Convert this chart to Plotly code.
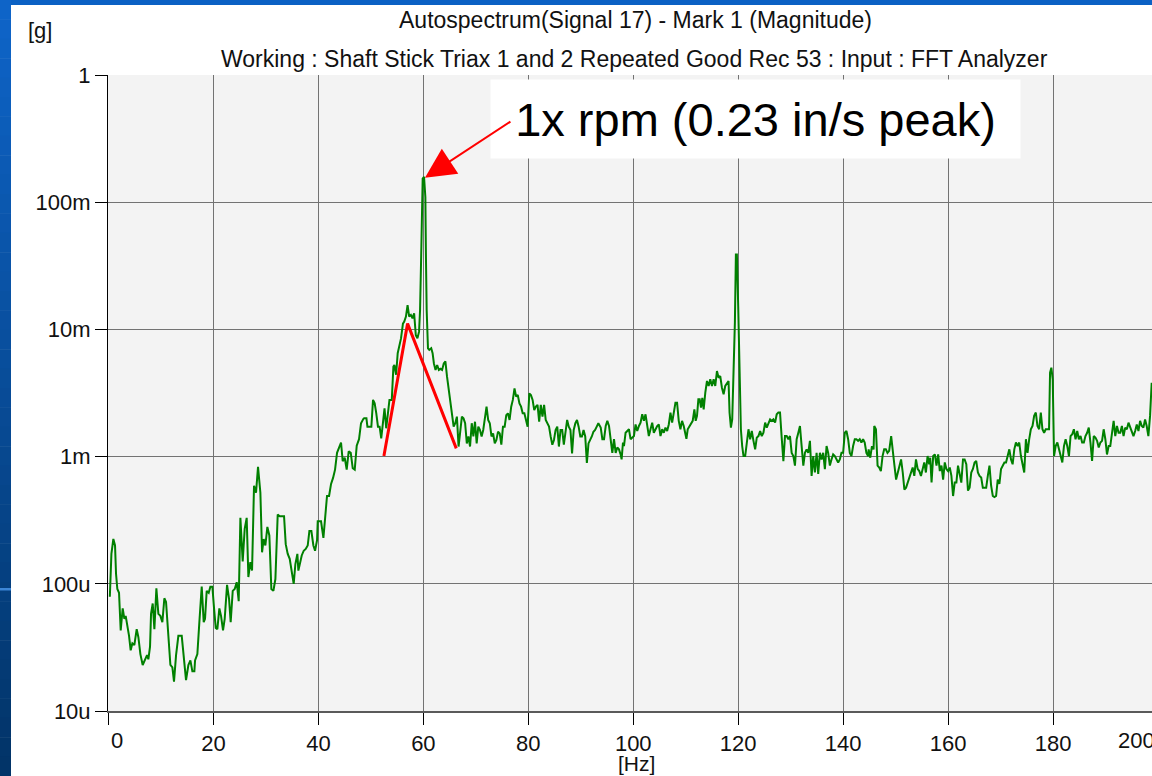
import plotly.graph_objects as go
import math

# ---- data (frequency in Hz, magnitude in g) ----
freq_hz = [
    0.25, 0.55, 0.92, 1.24, 1.43, 1.68, 2.0, 2.32, 2.7, 3.02, 3.27, 3.53, 3.91, 4.22, 4.54, 4.92,
    5.37, 5.69, 6.07, 6.51, 6.96, 7.34, 7.59, 7.91, 8.1, 8.42, 8.74, 9.12, 9.5, 9.88, 10.26, 10.64,
    10.96, 11.4, 11.79, 12.17, 12.48, 12.87, 13.31, 13.95, 14.33, 14.77, 15.22, 15.6, 15.98, 16.36,
    16.49, 16.93, 17.31, 17.76, 18.14, 18.39, 18.71, 19.09, 19.41, 19.79, 20.11, 20.43, 20.74, 21.12,
    21.44, 21.82, 22.14, 22.59, 22.97, 23.28, 23.67, 24.05, 24.43, 24.81, 25.13, 25.57, 25.95, 26.33,
    26.65, 27.03, 27.35, 27.73, 28.11, 28.49, 28.94, 29.26, 29.57, 29.89, 30.27, 30.65, 31.03, 31.42,
    31.8, 32.24, 32.62, 33.0, 33.45, 33.77, 34.15, 34.53, 34.91, 35.29, 35.61, 35.99, 36.18, 36.5,
    36.82, 37.2, 37.58, 37.96, 38.28, 38.66, 39.04, 39.36, 39.74, 39.87, 40.5, 40.95, 41.26, 41.64,
    42.03, 42.41, 42.79, 43.17, 43.55, 43.93, 44.31, 44.63, 45.01, 45.39, 45.77, 46.16, 46.54, 46.92,
    47.3, 47.74, 48.12, 48.57,
    48.71, 49.15, 49.34, 49.78, 50.09, 50.41, 50.72, 51.03, 51.35, 51.66, 51.97, 52.29, 52.6, 52.92,
    53.23, 53.54, 53.98, 54.29, 54.48, 54.8, 55.11, 55.42, 55.74, 56.11, 56.36, 56.68, 56.99, 57.3,
    57.62, 57.93, 58.24, 58.56, 58.87, 59.18, 59.37, 59.62, 59.87, 60.13, 60.38, 60.5, 60.63, 60.88,
    61.13, 61.5, 61.76, 62.01, 62.32, 62.63, 62.95, 63.26, 63.57, 63.89, 64.2, 64.51, 64.83, 65.14,
    65.45, 65.77, 66.08, 66.39, 66.71, 67.02, 67.34, 67.65, 67.96, 68.28, 68.59, 68.9, 69.22, 69.53,
    69.84, 70.16, 70.47, 70.78, 71.1, 71.41, 71.72, 72.04, 72.35, 72.66, 72.98, 73.29, 73.61, 73.92,
    74.23, 74.55, 74.86, 75.17, 75.49, 75.8, 76.11, 76.43, 76.74, 77.05, 77.37, 77.68, 77.99, 78.31,
    78.62, 78.93, 79.25, 79.56, 79.87, 80.19, 80.5, 80.82, 81.13, 81.44, 81.76, 82.07, 82.38, 82.7,
    83.01, 83.32, 83.64, 83.95, 84.26, 84.58, 84.89, 85.2, 85.52, 85.83, 86.14, 86.46, 86.77, 87.08,
    87.4, 87.71, 88.03, 88.34, 88.65, 88.97, 89.28, 89.59, 89.91, 90.22, 90.53, 90.85, 91.16, 91.47,
    91.79, 92.1, 92.41, 92.73, 93.04, 93.35,
    93.48, 93.8, 94.11, 94.43, 94.75, 95.06, 95.38, 95.7, 96.01, 96.33, 96.65, 96.96, 97.28, 97.59,
    97.78, 98.04, 98.23, 98.54, 98.86, 99.18, 99.49, 99.81, 100.13, 100.44, 100.76, 101.08, 101.39,
    101.71, 102.03, 102.34, 102.66, 102.97, 103.29, 103.61, 103.92, 104.24, 104.56, 104.87, 105.19,
    105.51, 105.82, 106.14, 106.46, 106.77, 107.09, 107.41, 107.72, 108.04, 108.35, 108.67, 108.99,
    109.3, 109.62, 109.94, 110.13, 110.38, 110.7, 111.01, 111.33, 111.65, 111.9, 112.15, 112.41,
    112.66, 112.91, 113.16, 113.42, 113.73, 114.05, 114.37, 114.68, 115.0, 115.32, 115.63, 115.95,
    116.27, 116.58, 116.9, 117.22, 117.53, 117.85, 118.16, 118.35, 118.61, 118.86, 119.11, 119.37,
    119.56, 119.75, 120.0, 120.25, 120.51, 120.76, 121.01, 121.33, 121.65, 121.96, 122.28, 122.59,
    122.91, 123.23, 123.54, 123.86, 124.18, 124.49, 124.81, 125.13, 125.44, 125.76, 126.08, 126.39,
    126.71, 127.03, 127.34, 127.66, 127.97, 128.29, 128.61, 128.92, 129.24, 129.56, 129.87, 130.19,
    130.51, 130.82, 131.14, 131.46, 131.77, 132.09, 132.41, 132.72, 133.04, 133.35, 133.67, 133.99,
    134.3, 134.62, 134.94, 135.25, 135.57, 135.89, 136.2, 136.52, 136.84, 137.15, 137.47, 137.78,
    138.1, 138.42, 138.73, 139.05, 139.37, 139.68, 140.0, 140.32, 140.63, 140.95, 141.27, 141.58,
    141.9, 142.22, 142.53, 142.85, 143.16, 143.48, 143.8, 144.11, 144.43, 144.75,
    144.86, 145.17, 145.49, 145.8, 145.93, 146.25, 146.56, 146.88, 147.19, 147.51, 147.82, 148.14,
    148.45, 148.77, 149.15, 149.46, 149.78, 150.09, 150.41, 150.73, 151.04, 151.36, 151.67, 151.99,
    152.3, 152.62, 152.93, 153.25, 153.56, 153.88, 154.2, 154.51, 154.83, 155.14, 155.46, 155.77,
    156.09, 156.4, 156.59, 156.85, 157.16, 157.48, 157.79, 158.11, 158.42, 158.74, 159.05, 159.37,
    159.68, 160.0, 160.32, 160.63, 160.95, 161.26, 161.58, 161.89, 162.21, 162.52, 162.84, 163.15,
    163.47, 163.79, 164.1, 164.42, 164.73, 165.05, 165.36, 165.68, 165.99, 166.31, 166.62, 166.94,
    167.26, 167.57, 167.89, 168.2, 168.52, 168.83, 169.15, 169.46, 169.78, 170.09, 170.41, 170.73,
    171.04, 171.36, 171.67, 171.99, 172.3, 172.62, 172.93, 173.25, 173.56, 173.88, 174.2, 174.51,
    174.83, 175.14, 175.46, 175.77, 176.09, 176.4, 176.72, 177.03, 177.35, 177.67, 177.98, 178.3,
    178.61, 178.93, 179.24, 179.43, 179.68, 179.94, 180.06, 180.19, 180.5, 180.82, 181.14, 181.45,
    181.77, 182.08, 182.4, 182.71, 183.03, 183.34, 183.66, 183.97, 184.29, 184.61, 184.92, 185.24,
    185.55, 185.87, 186.18, 186.5, 186.81, 187.13, 187.44, 187.76, 188.08, 188.39, 188.71, 189.02,
    189.34, 189.65, 189.97, 190.28, 190.6, 190.91, 191.23, 191.55, 191.86, 192.18, 192.49, 192.81,
    193.12, 193.44, 193.75, 194.07, 194.38, 194.7, 195.02, 195.33, 195.65, 195.96, 196.28, 196.59,
    196.91, 197.22, 197.54, 197.85, 198.17, 198.49, 198.8,
]

mag_g = [
    7.9e-5, 1.72e-4, 2.25e-4, 2.0e-4, 1.2e-4, 9.1e-5, 8.5e-5, 4.3e-5, 6.4e-5, 5.3e-5, 5.6e-5, 4.9e-5, 3.9e-5, 3.0e-5, 3.4e-5, 3.3e-5,
    4.4e-5, 3.8e-5, 2.8e-5, 2.3e-5, 2.5e-5, 2.75e-5, 2.55e-5, 3.2e-5, 5.8e-5, 7.0e-5, 4.4e-5, 9.2e-5, 5.8e-5, 5.6e-5, 5.0e-5, 7.7e-5,
    7.2e-5, 3.6e-5, 2.3e-5, 2.2e-5, 1.7e-5, 2.75e-5, 3.9e-5, 3.9e-5, 2.6e-5, 1.75e-5, 2.3e-5, 2.5e-5, 2.05e-5, 2.05e-5,
    2.5e-5, 2.8e-5, 5.0e-5, 9.5e-5, 5.0e-5, 5.3e-5, 8.8e-5, 8.5e-5, 9.5e-5, 9.5e-5, 6.4e-5, 4.5e-5, 4.4e-5, 6.4e-5,
    5.6e-5, 4.3e-5, 5.3e-5, 9.8e-5, 7.6e-5, 5.0e-5, 8.8e-5, 9.1e-5, 1.03e-4, 7.3e-5, 3.3e-4, 1.5e-4, 2.7e-4, 3.3e-4,
    1.13e-4, 1.48e-4, 1.27e-4, 5.9e-4, 5.2e-4, 8.3e-4, 5.2e-4, 1.77e-4, 2.25e-4, 2.0e-4, 2.8e-4, 2.4e-4, 9.1e-5, 8.8e-5,
    1.09e-4, 3.5e-4, 3.4e-4, 3.4e-4, 3.4e-4, 2.05e-4, 1.72e-4, 1.57e-4, 1.2e-4, 1.0e-4, 1.43e-4, 1.72e-4, 1.27e-4, 1.48e-4,
    1.67e-4, 1.82e-4, 1.88e-4, 2.0e-4, 2.6e-4, 2.6e-4, 2.0e-4, 1.82e-4, 2.2e-4, 3.1e-4, 3.1e-4, 2.3e-4, 3.5e-4, 4.9e-4,
    4.9e-4, 6.1e-4, 6.8e-4, 7.9e-4, 1.07e-3, 1.18e-3, 1.29e-3, 9.2e-4, 9.8e-4, 7.9e-4, 1.1e-3, 1.07e-3, 8.1e-4, 7.9e-4,
    1.22e-3, 1.37e-3, 1.83e-3, 1.98e-3,
    2.0e-3, 2.0e-3, 1.72e-3, 1.72e-3, 1.72e-3, 2.79e-3, 2.62e-3, 2.19e-3, 1.72e-3, 1.72e-3, 1.39e-3, 1.83e-3, 2.4e-3, 1.67e-3,
    2.06e-3, 2.79e-3, 2.79e-3, 5.1e-3, 5.25e-3, 4.4e-3, 6.5e-3, 7.5e-3, 8.5e-3, 1.11e-2, 1.15e-2, 1.26e-2, 1.55e-2, 1.26e-2,
    1.3e-2, 1.22e-2, 1.34e-2, 9.0e-3, 8.5e-3, 9.6e-3, 1.42e-2, 4.46e-2, 0.153, 0.158, 0.110, 3.5e-2, 1.42e-2, 7.1e-3,
    6.9e-3, 7.1e-3, 6.5e-3, 5.4e-3, 4.8e-3, 5.25e-3, 4.8e-3, 4.9e-3, 4.8e-3, 5.4e-3, 5.6e-3, 4.25e-3, 3.34e-3, 2.79e-3,
    2.19e-3, 1.72e-3, 1.83e-3, 2.06e-3, 1.2e-3, 1.52e-3, 2.06e-3, 2.0e-3, 1.83e-3, 1.27e-3, 1.44e-3, 1.2e-3, 1.83e-3, 1.44e-3,
    1.88e-3, 1.27e-3, 1.72e-3, 1.62e-3, 1.44e-3, 1.62e-3, 1.94e-3, 2.47e-3, 1.94e-3, 1.83e-3, 1.44e-3, 1.52e-3, 1.27e-3, 1.35e-3,
    1.57e-3, 1.52e-3, 1.24e-3, 1.72e-3, 1.72e-3, 2.12e-3, 2.19e-3, 1.94e-3, 2.47e-3, 2.79e-3, 3.44e-3, 2.96e-3, 3.05e-3, 2.62e-3,
    2.47e-3, 2.19e-3, 2.19e-3, 1.94e-3, 1.72e-3, 3.14e-3, 3.05e-3, 2.79e-3, 2.32e-3, 2.47e-3, 2.55e-3, 1.88e-3, 2.55e-3, 2.06e-3,
    2.55e-3, 1.94e-3, 1.83e-3, 1.72e-3, 1.44e-3, 1.24e-3, 1.35e-3, 1.62e-3, 1.72e-3, 1.2e-3, 1.62e-3, 1.62e-3, 1.24e-3, 1.62e-3,
    1.94e-3, 1.72e-3, 1.62e-3, 1.06e-3, 1.62e-3, 1.83e-3, 1.94e-3, 1.72e-3, 1.44e-3, 1.44e-3, 1.62e-3, 1.44e-3, 8.9e-4, 1.27e-3,
    1.35e-3, 1.44e-3, 1.57e-3, 1.62e-3, 1.72e-3, 1.83e-3,
    1.79e-3, 1.69e-3, 1.37e-3, 1.37e-3, 1.74e-3, 1.91e-3, 1.74e-3, 1.37e-3, 1.07e-3, 1.37e-3, 1.07e-3, 1.18e-3, 1.14e-3, 1.04e-3,
    9.5e-4, 1.29e-3, 1.21e-3, 1.54e-3, 1.59e-3, 1.64e-3, 1.37e-3, 1.41e-3, 1.45e-3, 1.79e-3, 1.59e-3, 1.74e-3, 1.85e-3,
    2.15e-3, 1.91e-3, 2.15e-3, 1.74e-3, 1.45e-3, 1.64e-3, 1.85e-3, 1.54e-3, 1.64e-3, 1.74e-3, 1.79e-3, 1.45e-3,
    1.64e-3, 1.54e-3, 1.69e-3, 1.59e-3, 1.79e-3, 2.22e-3, 1.85e-3, 2.15e-3, 2.65e-3, 2.65e-3, 1.91e-3, 1.64e-3,
    1.91e-3, 1.74e-3, 1.54e-3, 1.38e-3, 1.64e-3, 1.74e-3, 1.85e-3, 1.91e-3, 2.35e-3, 1.91e-3, 2.09e-3, 2.82e-3,
    2.82e-3, 2.43e-3, 2.9e-3, 2.35e-3, 3.18e-3, 3.93e-3, 3.59e-3, 4.05e-3, 3.59e-3, 4.05e-3, 3.59e-3, 4.71e-3,
    4.17e-3, 4.3e-3, 3.48e-3, 3.09e-3, 3.59e-3, 3.81e-3, 3.93e-3, 2.22e-3, 1.69e-3, 1.96e-3, 4.05e-3, 1.13e-2,
    3.88e-2, 3.88e-2, 1.52e-2, 4.57e-3, 1.64e-3, 1.21e-3, 1.01e-3, 1.01e-3, 1.29e-3, 1.64e-3, 1.37e-3, 1.59e-3,
    1.33e-3, 1.14e-3, 1.41e-3, 1.45e-3, 1.59e-3, 1.45e-3, 1.54e-3, 1.85e-3, 1.69e-3, 1.85e-3, 1.96e-3, 1.91e-3,
    1.96e-3, 1.85e-3, 2.15e-3, 2.22e-3, 2.22e-3, 1.41e-3, 9.2e-4, 1.45e-3, 1.45e-3, 1.37e-3, 1.45e-3, 1.07e-3,
    1.01e-3, 8.5e-4, 1.37e-3, 1.54e-3, 1.74e-3, 1.21e-3, 8.5e-4, 1.07e-3, 1.14e-3, 1.07e-3, 1.33e-3, 7.05e-4,
    1.01e-3, 7.5e-4, 1.07e-3, 7.3e-4, 1.07e-3, 9.5e-4, 1.07e-3, 7.95e-4, 1.21e-3, 1.07e-3, 8.5e-4, 9.5e-4,
    1.04e-3, 1.01e-3, 9.5e-4, 9.0e-4, 9.5e-4, 1.07e-3, 1.07e-3, 1.54e-3, 1.59e-3, 1.37e-3, 1.07e-3, 1.01e-3,
    1.21e-3, 1.37e-3, 1.37e-3, 1.33e-3, 1.37e-3, 1.29e-3, 1.37e-3, 1.29e-3, 1.07e-3, 1.01e-3,
    1.14e-3, 9.8e-4, 1.21e-3, 1.14e-3, 1.74e-3, 1.64e-3, 8.5e-4, 8.2e-4, 7.7e-4, 1.01e-3, 1.14e-3, 1.14e-3,
    1.07e-3, 1.11e-3, 1.45e-3, 1.04e-3, 8.5e-4, 6.6e-4, 7.5e-4, 8.5e-4, 9.5e-4, 7.5e-4, 5.5e-4, 5.7e-4,
    6.25e-4, 6.6e-4, 7.3e-4, 8.2e-4, 7.05e-4, 9.5e-4, 8.0e-4, 7.7e-4, 7.05e-4, 8.0e-4, 9.0e-4, 7.5e-4,
    1.01e-3, 8.7e-4, 9.8e-4, 6.25e-4, 1.01e-3, 1.04e-3, 8.5e-4, 1.04e-3, 7.7e-4, 8.5e-4, 6.6e-4, 9.0e-4,
    8.0e-4, 7.7e-4, 8.2e-4, 7.05e-4, 4.9e-4, 6.25e-4, 6.25e-4, 8.5e-4, 7.05e-4, 6.25e-4, 9.5e-4, 9.5e-4,
    8.7e-4, 5.4e-4, 5.7e-4, 7.5e-4, 8.0e-4, 9.0e-4, 9.25e-4, 7.5e-4, 7.05e-4, 6.85e-4, 5.7e-4, 5.7e-4,
    5.7e-4, 7.05e-4, 8.5e-4, 5.9e-4, 4.9e-4, 4.8e-4, 4.9e-4, 6.6e-4, 6.1e-4, 8.0e-4, 8.5e-4, 9.0e-4,
    9.0e-4, 1.01e-3, 1.14e-3, 9.5e-4, 8.7e-4, 1.14e-3, 1.29e-3, 1.21e-3, 1.29e-3, 1.01e-3, 8.5e-4, 7.5e-4,
    1.37e-3, 1.07e-3, 1.37e-3, 1.64e-3, 1.74e-3, 2.09e-3, 2.22e-3, 1.74e-3, 1.64e-3, 2.22e-3, 1.64e-3, 1.54e-3,
    1.64e-3, 1.64e-3, 1.64e-3, 4.57e-3, 5.0e-3, 4.05e-3, 1.85e-3, 1.01e-3, 1.21e-3, 1.29e-3, 1.14e-3, 1.01e-3,
    9.0e-4, 1.21e-3, 1.37e-3, 1.21e-3, 1.01e-3, 1.45e-3, 1.5e-3, 1.64e-3, 1.37e-3, 1.59e-3, 1.37e-3, 1.45e-3,
    1.29e-3, 1.29e-3, 1.45e-3, 1.54e-3, 1.69e-3, 1.29e-3, 9.25e-4, 1.45e-3, 1.41e-3, 1.33e-3, 1.18e-3, 1.29e-3,
    1.33e-3, 1.64e-3, 1.37e-3, 1.04e-3, 1.21e-3, 1.21e-3, 1.5e-3, 1.91e-3, 1.45e-3, 1.74e-3, 1.54e-3, 1.54e-3,
    1.74e-3, 1.45e-3, 1.69e-3, 1.64e-3, 1.85e-3, 1.69e-3, 1.54e-3, 1.45e-3, 1.59e-3, 1.79e-3, 1.59e-3, 1.91e-3,
    1.74e-3, 1.69e-3, 1.96e-3, 1.74e-3, 1.45e-3, 2.09e-3, 3.8e-3,
]

# hand-drawn red triangle (slope markers) around the 1x peak
marker_hz = [52.48, 56.99, 66.27]
marker_g = [1.01e-3, 1.11e-2, 1.16e-3]

x_ticks = [0, 20, 40, 60, 80, 100, 120, 140, 160, 180]
x_ticktext = ["", "20", "40", "60", "80", "100", "120", "140", "160", "180"]
y_ticks = [1e-5, 1e-4, 1e-3, 1e-2, 1e-1, 1]
y_ticktext = ["10u", "100u", "1m", "10m", "100m", "1"]

peak_hz = 60.3
peak_g = 0.156

title_1 = "Autospectrum(Signal 17) - Mark 1 (Magnitude)"
title_2 = "Working : Shaft Stick Triax 1 and 2 Repeated Good Rec 53 : Input : FFT Analyzer"
callout = "1x rpm (0.23 in/s peak)"

FONT = "Liberation Sans, Arial, sans-serif"

# ---- geometry (pixels) ----
W, H = 1152, 776
ML, MR, MT, MB = 108, 0, 75, 65
PW, PH = W - ML - MR, H - MT - MB


def px(xp):
    return (xp - ML) / PW


def py(yp):
    return (H - MB - yp) / PH


fig = go.Figure()
fig.add_trace(go.Scatter(x=freq_hz, y=mag_g, mode="lines",
                         line=dict(color="#008000", width=2), showlegend=False,
                         hoverinfo="skip"))
fig.add_trace(go.Scatter(x=marker_hz, y=marker_g, mode="lines",
                         line=dict(color="#ff0000", width=3), showlegend=False,
                         hoverinfo="skip"))

shapes = []
# blue slide border: top strip and left gradient strip
shapes.append(dict(type="rect", xref="paper", yref="paper", x0=px(0), x1=px(W),
                   y0=py(0), y1=py(5), fillcolor="#0b61c4", line=dict(width=0), layer="above"))
c0 = (14, 100, 200)
c1 = (2, 52, 104)
n = 40
for i in range(n):
    t = i / (n - 1)
    c = tuple(int(round(c0[k] + (c1[k] - c0[k]) * t)) for k in range(3))
    y0 = H * i / n
    y1 = H * (i + 1) / n + 0.5
    shapes.append(dict(type="rect", xref="paper", yref="paper", x0=px(0), x1=px(11),
                       y0=py(y0), y1=py(y1), fillcolor="rgb(%d,%d,%d)" % c,
                       line=dict(width=0), layer="above"))
shapes.append(dict(type="rect", xref="paper", yref="paper", x0=px(0), x1=px(11),
                   y0=py(588), y1=py(590.5), fillcolor="#3d86d6", line=dict(width=0), layer="above"))

annotations = [
    dict(text=title_1, xref="paper", yref="paper", x=px(635.5), y=py(20), showarrow=False,
         xanchor="center", yanchor="middle", font=dict(family=FONT, size=23, color="#111")),
    dict(text=title_2, xref="paper", yref="paper", x=px(634), y=py(59), showarrow=False,
         xanchor="center", yanchor="middle", font=dict(family=FONT, size=23, color="#111")),
    dict(text="[g]", xref="paper", yref="paper", x=px(40), y=py(30), showarrow=False,
         xanchor="center", yanchor="middle", font=dict(family=FONT, size=22, color="#111")),
    dict(text="[Hz]", xref="paper", yref="paper", x=px(636), y=py(763), showarrow=False,
         xanchor="center", yanchor="middle", font=dict(family=FONT, size=21, color="#111")),
    dict(text="0", xref="paper", yref="paper", x=px(109), y=py(740), showarrow=False,
         xanchor="left", yanchor="middle", font=dict(family=FONT, size=22, color="#111")),
    dict(text="200", xref="paper", yref="paper", x=px(1157), y=py(740), showarrow=False,
         xanchor="right", yanchor="middle", font=dict(family=FONT, size=22, color="#111")),
    # call-out box
    dict(text=callout, xref="paper", yref="paper", x=px(755.5), y=py(119), showarrow=False,
         xanchor="center", yanchor="middle", width=525, height=74, borderpad=2,
         bgcolor="white", font=dict(family=FONT, size=47, color="#000")),
    # arrow to the 1x peak
    dict(text="", x=peak_hz, y=math.log10(peak_g), xref="x", yref="y", showarrow=True,
         ax=87, ay=-57, arrowcolor="#ff0000", arrowwidth=2, arrowhead=2, arrowsize=3,
         standoff=0),
]

axis_font = dict(family=FONT, size=22, color="#111")
fig.update_layout(
    width=W, height=H,
    margin=dict(l=ML, r=MR, t=MT, b=MB, pad=0),
    paper_bgcolor="white", plot_bgcolor="#f3f3f3",
    shapes=shapes, annotations=annotations, showlegend=False,
    xaxis=dict(range=[-0.1, 198.86], tickvals=x_ticks, ticktext=x_ticktext,
               showgrid=True, gridcolor="#727272", gridwidth=1, zeroline=False,
               showline=True, linecolor="#5a5a5a", linewidth=2,
               ticks="outside", ticklen=12, tickcolor="#000", tickwidth=1,
               tickfont=axis_font),
    yaxis=dict(type="log", range=[-5, 0], tickvals=y_ticks, ticktext=y_ticktext,
               showgrid=True, gridcolor="#727272", gridwidth=1, zeroline=False,
               showline=True, linecolor="#000", linewidth=1,
               ticks="outside", ticklen=12, tickcolor="#000", tickwidth=1,
               tickfont=axis_font),
)

fig.write_html(
    "out.html",
    config={"displayModeBar": False},
    post_script="document.body.style.margin='0';document.body.style.overflow='hidden';",
)
